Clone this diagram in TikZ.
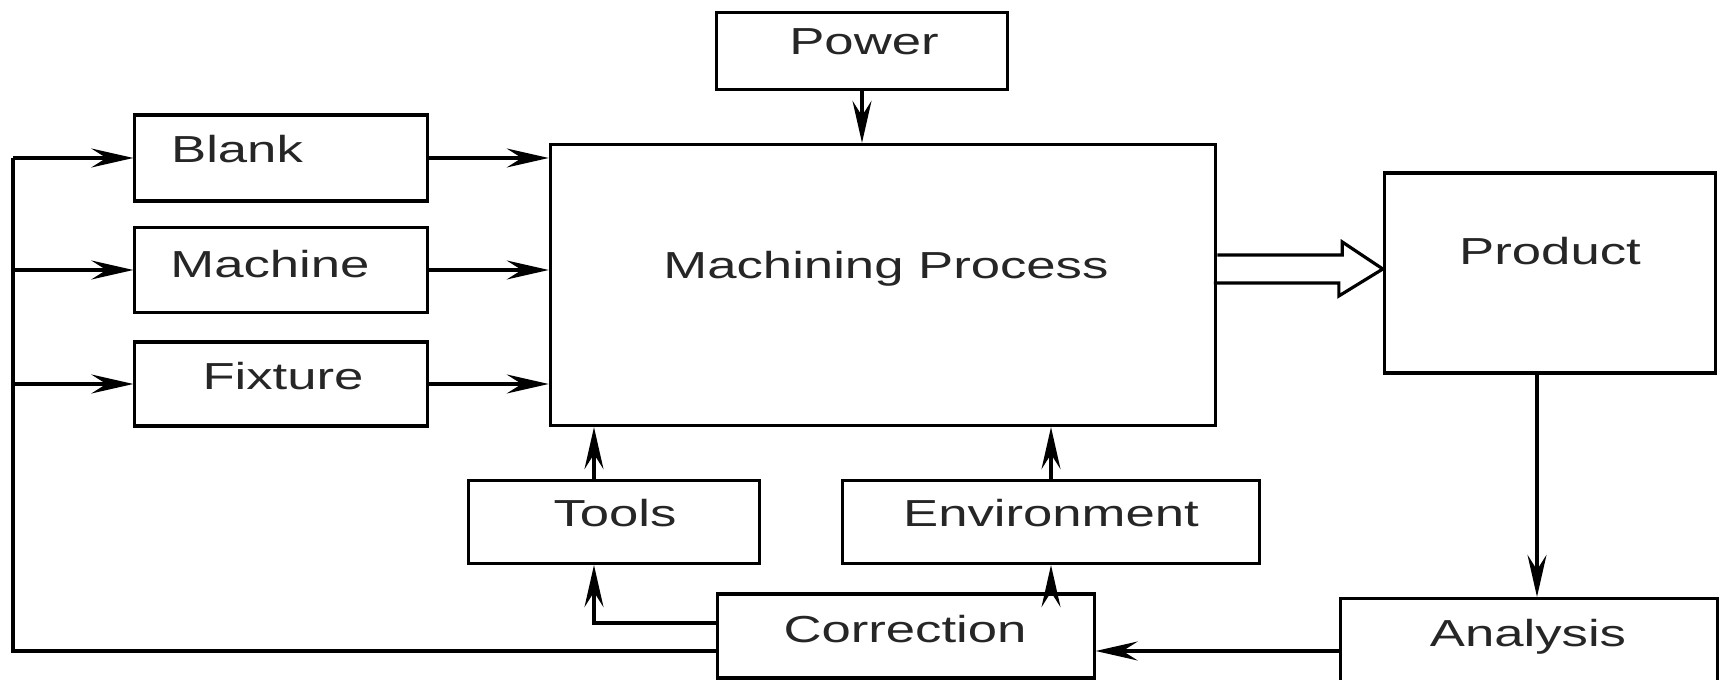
\documentclass[tikz,border=0pt]{standalone}
\usepackage{fontspec}
\setmainfont{Liberation Sans}[FakeStretch=1.4]
\usetikzlibrary{arrows.meta}

\begin{document}
\begin{tikzpicture}[
  x=0.01cm, y=-0.01cm,
  box/.style={draw, rectangle, line width=0.9pt, inner sep=0pt},
  txt/.style={anchor=base, inner sep=0pt, text=black!85, font=\fontsize{10.7pt}{13pt}\selectfont},
  every path/.style={line width=0.9pt},
  >={Stealth[length=0.42cm, width=0.19cm, inset=0.15cm]}
]
  \useasboundingbox (0,0) rectangle (1721,680);

  \node[box, minimum width=2.91cm, minimum height=0.77cm] (power) at (862,51) {};
  \node[box, minimum width=2.92cm, minimum height=0.86cm] (blank) at (281,158) {};
  \node[box, minimum width=2.92cm, minimum height=0.85cm] (machine) at (281,270) {};
  \node[box, minimum width=2.92cm, minimum height=0.84cm] (fixture) at (281,384) {};
  \node[box, minimum width=6.65cm, minimum height=2.81cm] (proc) at (883,285) {};
  \node[box, minimum width=3.31cm, minimum height=2.00cm] (product) at (1550,273) {};
  \node[box, minimum width=2.91cm, minimum height=0.83cm] (tools) at (614,522) {};
  \node[box, minimum width=4.16cm, minimum height=0.83cm] (env) at (1051,522) {};
  \node[box, minimum width=3.76cm, minimum height=0.84cm] (corr) at (906,636) {};
  \node[box, minimum width=3.77cm, minimum height=0.83cm] (analysis) at (1529,640) {};

  \node[txt] (power-t) at (864,55) {Power};
  \node[txt] (blank-t) at (237,163) {Blank};
  \node[txt] (machine-t) at (270,278) {Machine};
  \node[txt] (fixture-t) at (283,390) {Fixture};
  \node[txt] (proc-t) at (886,279) {Machining Process};
  \node[txt] (product-t) at (1550,265) {Product};
  \node[txt] (tools-t) at (615,527) {Tools};
  \node[txt] (env-t) at (1051,527) {Environment};
  \node[txt] (corr-t) at (905,643) {Correction};
  \node[txt] (analysis-t) at (1528,647) {Analysis};

  % inputs
  \coordinate (bus) at (13,158);
  \draw ([yshift=-0.15cm]corr.west) -| (bus);
  \foreach \b in {blank, machine, fixture} {
    \draw[->] (bus |- \b.west) -- (\b.west);
    \draw[->] (\b.east) -- (\b.east -| proc.west);
  }
  \draw[->] (power.south) -- (power.south |- proc.north);

  % tools and environment
  \draw[->] ([xshift=-0.2cm]tools.north) -- ([xshift=-0.2cm]tools.north |- proc.south);
  \draw[->] (env.north) -- (env.north |- proc.south);
  \draw[->] ([yshift=0.13cm]corr.west) -| ([xshift=-0.2cm]tools.south);
  \draw[->] (env.south |- corr.north) -- (env.south);

  % output
  \coordinate (tip) at ([yshift=0.04cm]product.west);
  \draw[line join=miter] (proc.east |- tip) ++(0,-14) -- ++(125,0) -- ++(0,-13)
    -- (tip) -- ++(-44,27) -- ++(0,-13) -- ++(-125,0);
  \draw[->] ([xshift=-0.13cm]product.south) -- ([xshift=-0.13cm]product.south |- analysis.north);
  \draw[->] ([yshift=-0.11cm]analysis.west) -- ([yshift=-0.11cm]analysis.west -| corr.east);
\end{tikzpicture}
\end{document}
